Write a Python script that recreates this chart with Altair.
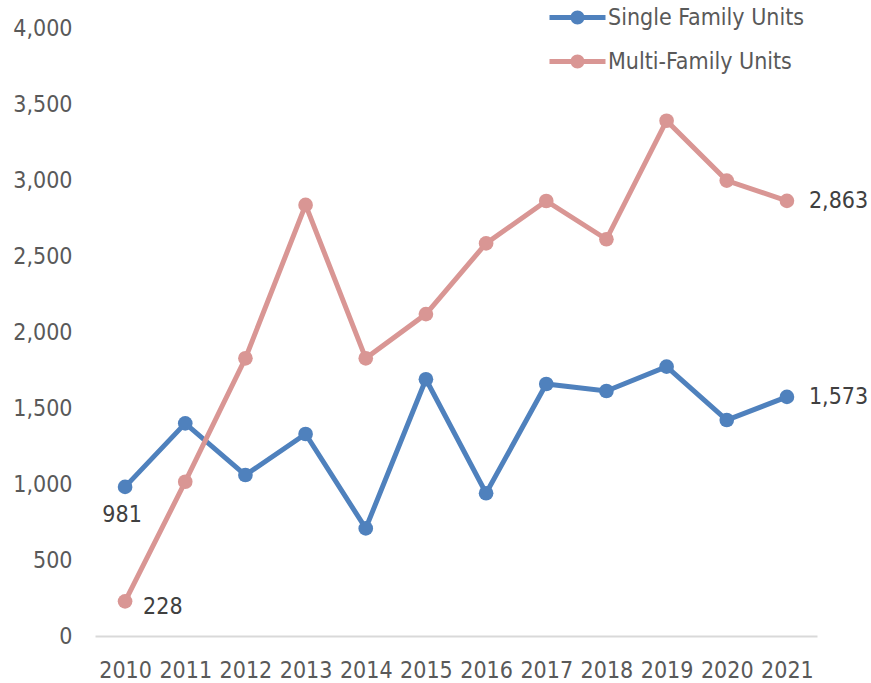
import altair as alt
import pandas as pd

years = ["2010", "2011", "2012", "2013", "2014", "2015", "2016", "2017", "2018", "2019", "2020", "2021"]
single_family = [981, 1399, 1059, 1329, 708, 1689, 939, 1658, 1612, 1772, 1421, 1573]
multi_family = [228, 1015, 1827, 2836, 1827, 2118, 2583, 2862, 2610, 3390, 2996, 2863]
series_names = ["Single Family Units", "Multi-Family Units"]
series_colors = ["#4F81BD", "#D99694"]
y_ticks = [0, 500, 1000, 1500, 2000, 2500, 3000, 3500, 4000]

rows = []
for y, v in zip(years, single_family):
    rows.append({"year": y, "value": v, "series": series_names[0]})
for y, v in zip(years, multi_family):
    rows.append({"year": y, "value": v, "series": series_names[1]})
df = pd.DataFrame(rows)

FONT = "DejaVu Sans Condensed"
LEG_PATH = ("M -2.5 -0.22 L 2.5 -0.22 L 2.5 0.22 L -2.5 0.22 Z "
            "M -0.625 0 A 0.625 0.625 0 1 1 0.625 0 A 0.625 0.625 0 1 1 -0.625 0 Z")

x_enc = alt.X("year:O", scale=alt.Scale(type="point", padding=0.5), sort=years,
              axis=alt.Axis(title=None, labelAngle=0, ticks=False, domain=True,
                            domainColor="#D9D9D9", domainWidth=2, labelPadding=23,
                            labelFont=FONT, labelFontSize=23, labelColor="#595959", grid=False))
y_enc = alt.Y("value:Q", scale=alt.Scale(domain=[0, 4000], nice=False),
              axis=alt.Axis(title=None, values=y_ticks, format=",.0f", ticks=False, domain=False,
                            grid=False, labelPadding=23, labelFont=FONT, labelFontSize=23,
                            labelColor="#595959"))
legend = alt.Legend(title=None, orient="none", legendX=471, legendY=-22, symbolType=LEG_PATH,
                    symbolSize=502, symbolStrokeWidth=0, labelOffset=19, labelFont=FONT,
                    labelFontSize=23, labelColor="#595959", rowPadding=20, padding=0,
                    symbolOffset=0, labelLimit=400)
color_enc = alt.Color("series:N", scale=alt.Scale(domain=series_names, range=series_colors),
                      legend=legend)

base = alt.Chart(df)
lines = base.mark_line(strokeWidth=5).encode(x=x_enc, y=y_enc, color=color_enc,
                                             detail="series:N")
points = base.mark_point(filled=True, size=215, opacity=1).encode(x=x_enc, y=y_enc,
                                                                   color=color_enc)


def label(year, series, align, dx, dy):
    return base.transform_filter(
        (alt.datum.year == year) & (alt.datum.series == series)
    ).mark_text(align=align, baseline="middle", dx=dx, dy=dy, font=FONT, fontSize=23,
                color="#404040").encode(x=alt.X("year:O", sort=years),
                                        y="value:Q", text=alt.Text("value:Q", format=",.0f"))


labels = [
    label("2010", series_names[0], "center", -3, 28),
    label("2010", series_names[1], "left", 18, 6),
    label("2021", series_names[0], "left", 22, 0),
    label("2021", series_names[1], "left", 22, 0),
]

chart = alt.layer(lines, points, *labels).properties(
    width=722, height=608,
    padding={"left": 95, "top": 28, "right": 54, "bottom": 47},
    autosize=alt.AutoSizeParams(type="none"),
    background="white",
).configure_view(stroke="transparent", strokeWidth=0)

chart.save("out.html", embed_options={"renderer": "svg", "actions": False})
